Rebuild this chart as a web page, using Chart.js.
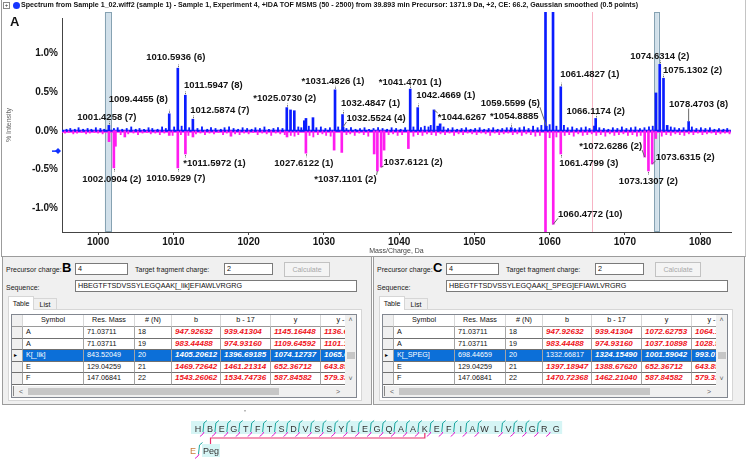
<!DOCTYPE html>
<html>
<head>
<meta charset="utf-8">
<script src="https://cdn.jsdelivr.net/npm/chart.js@4.4.1/dist/chart.umd.min.js"></script>
<style>
  body { margin: 0; width: 750px; height: 463px; position: relative; overflow: hidden; background: #fff;
         font-family: "Liberation Sans", Arial, sans-serif; }
  #specWrap { position: absolute; left: 0; top: 0; width: 750px; height: 256px; }
  #specBox { position: absolute; left: 1px; top: 0; width: 745px; height: 257px; box-sizing: border-box;
             border-left: 1px solid #9c9c9c; border-right: 1px solid #c4c4c4; border-bottom: 1px solid #9c9c9c; pointer-events: none; }
  #titleBar { position: absolute; left: 3px; top: 0; height: 10px; }
  #plusBox { position: absolute; left: 0; top: 2px; width: 5px; height: 5px; border: 1px solid #888; font: 6px/5px Arial; text-align: center; color: #333; }
  #dot { position: absolute; left: 10px; top: 2px; width: 7px; height: 7px; border-radius: 50%; background: #1535ff; }
  #ttl { position: absolute; left: 18px; top: 0; white-space: nowrap; font: bold 7.4px/10px "Liberation Sans", Arial, sans-serif; color: #111; transform-origin: 0 0; }
  #letterA { position: absolute; left: 10px; top: 15px; font: bold 13px/14px "Liberation Sans", Arial, sans-serif; color: #111; }

  .pnl { position: absolute; top: 256px; height: 149px; background: #f0f0f0; border: 1px solid #9c9c9c; box-sizing: border-box;
         font: 7px "Liberation Sans", Arial, sans-serif; color: #111; }
  .pnl div { position: absolute; box-sizing: border-box; }
  .lbl { white-space: nowrap; line-height: 10px; color: #222; }
  .big { font: bold 13px/14px "Liberation Sans", Arial, sans-serif; color: #000; }
  .inp { height: 12px; background: #fff; border: 1px solid #7a7a7a; padding-left: 2px; line-height: 10px; white-space: nowrap; overflow: hidden; font-size: 7.2px; }
  .btn { width: 46px; height: 15px; background: #f4f4f4; border: 1px solid #c2c2c2; color: #a8a8a8; text-align: center; line-height: 13px; }
  .page { background: #fff; border: 1px solid #d6d6d6; }
  .tab { text-align: center; line-height: 11px; border: 1px solid #d6d6d6; background: #f0f0f0; }
  .tab.sel { background: #fff; border-bottom: none; line-height: 13px; }
  .grid { background: #fff; border: 1px solid #828790; overflow: hidden; }
  .cell { height: 100%; top: 0; border-right: 1px solid #a4a4a4; border-bottom: 1px solid #707070; white-space: nowrap; overflow: hidden; padding-left: 3px; font-size: 7.2px; }
  .hd .cell { text-align: center; padding-left: 0; border-right: 1px solid #d8d8d8; border-bottom: 1px solid #9a9a9a; }
  .rh { background: #f0f0f0; padding-left: 2px !important; font-size: 6px !important; }
  .red { color: #f0141c; font: italic bold 8px "Liberation Sans", Arial, sans-serif; }
  .sel .cell { background: #0c6fd8; color: #fff; }
  .sel .cell.rh { background: #f0f0f0; color: #000; }
  .sel .red { color: #fff; }
  .sb { background: #f0f0f0; color: #606060; font-size: 7px; }
  .thumb { background: #c6c6c6; }
</style>
</head>
<body>
<div id="specWrap"><canvas id="spectrum"></canvas></div>
<div id="specBox"></div>
<div id="titleBar"><div id="plusBox">+</div><div id="dot"></div>
  <div id="ttl">Spectrum from Sample 1_02.wiff2 (sample 1) - Sample 1, Experiment 4, +IDA TOF MSMS (50 - 2500) from 39.893 min Precursor: 1371.9 Da, +2, CE: 66.2, Gaussian smoothed (0.5 points)</div>
</div>
<div id="letterA">A</div>
<div class="pnl" id="panelB" style="left:2px;width:370px"></div>
<div class="pnl" id="panelC" style="left:373px;width:372px"></div>
<svg id="seqSvg" width="750" height="59" style="position:absolute;left:0;top:404px"></svg>

<script>
// axis ranges and ticks
const xMin = 995.2, xMax = 1084.1;
const yMin = -1.31, yMax = 1.46;
const xTicks = [1000, 1010, 1020, 1030, 1040, 1050, 1060, 1070, 1080];
const yTicks = [-1.0, -0.5, 0, 0.5, 1.0];

// sample spectrum, labelled / major peaks (m/z, % intensity)
const posMz  = [1001.43, 1009.45, 1010.59, 1011.59, 1012.59, 1025.07, 1025.57, 1026.07, 1027.40, 1027.62, 1028.55,
                1031.48, 1032.48, 1032.55, 1041.47, 1042.47, 1044.63, 1045.13, 1045.45, 1054.89, 1059.45, 1059.56,
                1060.45, 1061.48, 1066.12, 1074.13, 1074.63, 1075.13, 1075.62, 1078.47];
const posInt = [0.07, 0.22, 0.81, 0.46, 0.15, 0.30, 0.27, 0.26, 0.13, 0.16, 0.17,
                0.53, 0.21, 0.05, 0.54, 0.30, 0.27, 0.06, 0.09, 0.04, 2.0, 0.06,
                2.0, 0.57, 0.16, 0.49, 0.86, 0.68, 0.07, 0.12];

// reference (library) spectrum, mirrored below the axis
const negMz  = [1001.45, 1002.09, 1002.30, 1003.55, 1009.45, 1010.59, 1011.60, 1012.60, 1017.65, 1025.10, 1027.61,
                1031.36, 1032.38, 1036.68, 1037.11, 1037.61, 1038.00, 1041.23, 1059.45, 1060.48, 1061.48,
                1072.63, 1073.13, 1073.63, 1074.10];
const negInt = [-0.14, -0.48, -0.20, -0.08, -0.06, -0.48, -0.30, -0.08, -0.07, -0.08, -0.29,
                -0.25, -0.28, -0.30, -0.52, -0.47, -0.25, -0.23, -2.0, -1.21, -0.30,
                -0.34, -0.52, -0.43, -0.10];

// small peaks
const posMinorMz  = [995.8, 996.3, 996.9, 997.4, 998.0, 998.6, 999.1, 999.7, 1000.3, 1000.8, 1002.1, 1002.6, 1003.2, 1003.8,
  1004.4, 1005.0, 1005.5, 1006.1, 1006.7, 1007.2, 1007.9, 1008.5, 1009.0, 1010.1, 1011.1, 1012.1, 1013.2, 1013.8, 1014.5,
  1015.0, 1015.6, 1016.3, 1016.8, 1017.4, 1018.0, 1018.6, 1019.2, 1019.8, 1020.4, 1020.9, 1021.5, 1022.1, 1022.7, 1023.3,
  1023.9, 1024.5, 1026.6, 1027.0, 1028.0, 1029.0, 1029.6, 1030.2, 1030.8, 1031.9, 1033.0, 1033.6, 1034.2, 1034.8, 1035.4,
  1036.0, 1036.6, 1037.2, 1037.8, 1038.4, 1039.0, 1039.6, 1040.2, 1040.8, 1041.9, 1042.9, 1043.4, 1043.9, 1044.2, 1045.9,
  1046.5, 1047.1, 1047.7, 1048.3, 1048.9, 1049.5, 1050.1, 1050.7, 1051.3, 1051.9, 1052.5, 1053.1, 1053.7, 1054.3, 1055.4,
  1056.0, 1056.6, 1057.2, 1057.8, 1058.4, 1058.9, 1060.0, 1060.9, 1061.9, 1062.4, 1063.0, 1063.6, 1064.2, 1064.8, 1065.3,
  1065.9, 1066.6, 1067.2, 1067.8, 1068.4, 1069.0, 1069.6, 1070.2, 1070.8, 1071.4, 1072.0, 1072.6, 1073.2, 1073.7, 1076.1,
  1076.6, 1077.2, 1077.8, 1078.9, 1079.5, 1080.1, 1080.7, 1081.3, 1081.9, 1082.5, 1083.1, 1083.6];
const posMinorInt = [0.02, 0.03, 0.02, 0.04, 0.02, 0.03, 0.02, 0.04, 0.03, 0.02, 0.03, 0.04, 0.02, 0.03,
  0.05, 0.02, 0.03, 0.02, 0.04, 0.03, 0.02, 0.05, 0.03, 0.05, 0.06, 0.04, 0.03, 0.05, 0.02,
  0.04, 0.03, 0.02, 0.04, 0.05, 0.03, 0.02, 0.04, 0.03, 0.02, 0.04, 0.03, 0.05, 0.02, 0.03,
  0.04, 0.03, 0.05, 0.04, 0.06, 0.04, 0.05, 0.03, 0.04, 0.05, 0.03, 0.04, 0.02, 0.03, 0.04,
  0.02, 0.03, 0.04, 0.03, 0.02, 0.04, 0.03, 0.02, 0.04, 0.05, 0.04, 0.06, 0.05, 0.07, 0.05,
  0.03, 0.04, 0.02, 0.03, 0.04, 0.02, 0.03, 0.04, 0.02, 0.03, 0.04, 0.02, 0.03, 0.04, 0.03,
  0.04, 0.05, 0.03, 0.06, 0.04, 0.07, 0.08, 0.06, 0.07, 0.04, 0.05, 0.03, 0.04, 0.05, 0.03,
  0.06, 0.04, 0.03, 0.02, 0.04, 0.03, 0.05, 0.03, 0.04, 0.05, 0.03, 0.04, 0.05, 0.06, 0.05,
  0.04, 0.03, 0.04, 0.05, 0.03, 0.04, 0.03, 0.04, 0.02, 0.03, 0.02, 0.03];
const negMinorMz  = [995.6, 996.1, 996.7, 997.2, 997.8, 998.4, 998.9, 999.5, 1000.0, 1000.6, 1003.0, 1004.0, 1004.7, 1005.3,
  1005.9, 1006.5, 1007.0, 1007.6, 1008.2, 1008.8, 1009.9, 1011.0, 1012.0, 1013.0, 1013.6, 1014.2, 1014.8, 1015.4, 1016.0,
  1016.6, 1017.1, 1018.2, 1018.8, 1019.4, 1020.0, 1020.6, 1021.2, 1021.8, 1022.4, 1023.0, 1023.6, 1024.2, 1024.8, 1025.6,
  1026.1, 1026.6, 1028.1, 1028.6, 1029.2, 1029.8, 1030.3, 1030.9, 1033.0, 1033.5, 1034.1, 1034.7, 1035.3, 1035.9, 1038.6,
  1039.2, 1039.8, 1040.4, 1041.9, 1042.5, 1043.1, 1043.7, 1044.3, 1044.9, 1045.5, 1046.1, 1046.7, 1047.3, 1047.9, 1048.5,
  1049.1, 1049.7, 1050.3, 1050.9, 1051.5, 1052.1, 1052.7, 1053.3, 1053.9, 1054.5, 1055.1, 1055.7, 1056.3, 1056.9, 1057.5,
  1058.1, 1058.7, 1060.0, 1060.9, 1062.0, 1062.6, 1063.2, 1063.8, 1064.4, 1065.0, 1065.6, 1066.2, 1066.8, 1067.4, 1068.0,
  1068.6, 1069.2, 1069.8, 1070.4, 1071.0, 1071.6, 1072.1, 1074.9, 1075.5, 1076.1, 1076.7, 1077.3, 1077.9, 1078.5, 1079.1,
  1079.7, 1080.3, 1080.9, 1081.5, 1082.1, 1082.7, 1083.3, 1083.9];
const negMinorInt = [-0.03, -0.02, -0.04, -0.03, -0.02, -0.04, -0.03, -0.02, -0.03, -0.04, -0.05, -0.04, -0.03, -0.05,
  -0.03, -0.02, -0.04, -0.03, -0.05, -0.03, -0.06, -0.05, -0.06, -0.04, -0.03, -0.05, -0.03, -0.04, -0.02,
  -0.05, -0.03, -0.04, -0.05, -0.03, -0.04, -0.02, -0.05, -0.03, -0.04, -0.06, -0.03, -0.04, -0.05, -0.06,
  -0.07, -0.05, -0.06, -0.08, -0.05, -0.04, -0.06, -0.07, -0.05, -0.04, -0.06, -0.03, -0.05, -0.07, -0.05,
  -0.04, -0.06, -0.05, -0.07, -0.05, -0.06, -0.04, -0.05, -0.06, -0.04, -0.05, -0.03, -0.06, -0.04, -0.05,
  -0.03, -0.04, -0.05, -0.03, -0.04, -0.06, -0.03, -0.05, -0.04, -0.03, -0.05, -0.04, -0.06, -0.04, -0.05,
  -0.07, -0.06, -0.09, -0.08, -0.06, -0.05, -0.07, -0.04, -0.06, -0.05, -0.04, -0.06, -0.05, -0.07, -0.04,
  -0.06, -0.05, -0.04, -0.06, -0.05, -0.07, -0.06, -0.07, -0.05, -0.06, -0.04, -0.05, -0.06, -0.04, -0.05,
  -0.03, -0.05, -0.04, -0.03, -0.05, -0.04, -0.03, -0.04];

// baseline traces
const blueBase = 0.0, pinkBase = -0.012;

// peak annotations: text, anchor m/z, anchor intensity
const labelText = ['1001.4258 (7)', '1009.4455 (8)', '1010.5936 (6)', '1011.5947 (8)', '1012.5874 (7)', '*1025.0730 (2)',
  '*1031.4826 (1)', '1032.4847 (1)', '1032.5524 (4)', '*1041.4701 (1)', '1042.4669 (1)', '*1044.6267', '*1054.8885',
  '1059.5599 (5)', '1061.4827 (1)', '1066.1174 (2)', '1074.6314 (2)', '1075.1302 (2)', '1078.4703 (8)',
  '1002.0904 (2)', '1010.5929 (7)', '*1011.5972 (1)', '1027.6122 (1)', '*1037.1101 (2)', '1037.6121 (2)',
  '1060.4772 (10)', '1061.4799 (3)', '*1072.6286 (2)', '1073.6315 (2)', '1073.1307 (2)'];
const labelMz  = [1001.43, 1009.45, 1010.59, 1011.59, 1012.59, 1025.07, 1031.48, 1032.48, 1032.55, 1041.47, 1042.47, 1044.63,
  1054.89, 1059.56, 1061.48, 1066.12, 1074.63, 1075.13, 1078.47,
  1002.09, 1010.59, 1011.60, 1027.61, 1037.11, 1037.61, 1060.48, 1061.48, 1072.63, 1073.63, 1073.13];
const labelInt = [0.07, 0.22, 0.81, 0.46, 0.15, 0.30, 0.53, 0.21, 0.05, 0.54, 0.30, 0.27, 0.04, 0.06, 0.57, 0.16, 0.86, 0.68, 0.12,
  -0.48, -0.48, -0.30, -0.29, -0.52, -0.47, -1.21, -0.30, -0.34, -0.43, -0.52];
// label placement relative to anchor: dx, dy (px), connector
const labelPlace = [[-2, -8, 'tick'], [-31, -14, 'tick'], [-2, -11, 'tick'], [28, -10, 'tick'], [27, -9, 'tick'], [-2, -9, 'tick'],
  [-2, -8, 'tick'], [28, -11, 'tick'], [33, -9, 'line'], [0, -7, 'tick'], [28, -12, 'tick'], [28, 7, 'line'], [3, -11, 'tick'],
  [-36, -23, 'line'], [29, -12, 'tick'], [0, -7, 'tick'], [0, -8, 'tick'], [29, -8, 'tick'], [10, -17, 'line'],
  [-2, 11, 'tick'], [-2, 10, 'tick'], [29, 9, 'tick'], [-2, 10, 'tick'], [-32, 8, 'line'], [32, -5, 'line'],
  [37, -10, 'line'], [28, 9, 'tick'], [-34, -11, 'line'], [33, -7, 'line'], [0, 10, 'tick']];

// highlighted m/z windows and marker
const bandRanges = [[1000.9, 1001.7], [1073.9, 1074.5]];
const cursorMz = 1065.6;
const precursorMark = -0.26;

const pts = (xs, ys) => xs.map((v, i) => ({ x: v, y: ys[i] }));

const decorPlugin = {
  id: 'specDecor',
  beforeDatasetsDraw(chart) {
    const { ctx, chartArea: a, scales: { x } } = chart;
    ctx.save();
    bandRanges.forEach(([m0, m1]) => {
      const x0 = x.getPixelForValue(m0), x1 = x.getPixelForValue(m1);
      ctx.fillStyle = 'rgba(184,208,222,0.65)';
      ctx.fillRect(x0, a.top - 6, x1 - x0, a.bottom - a.top + 6);
      ctx.strokeStyle = '#86a2b2';
      ctx.lineWidth = 1;
      ctx.strokeRect(Math.round(x0) + 0.5, a.top - 5.5, Math.round(x1 - x0), a.bottom - a.top + 5);
    });
    const cx = Math.round(x.getPixelForValue(cursorMz)) + 0.5;
    ctx.strokeStyle = '#f7b3c4';
    ctx.beginPath(); ctx.moveTo(cx, a.top - 6); ctx.lineTo(cx, a.bottom); ctx.stroke();
    ctx.restore();
  },
  afterDatasetsDraw(chart) {
    const { ctx, chartArea: a, scales: { x, y } } = chart;
    ctx.save();
    ctx.font = 'bold 9.5px "Liberation Sans", Arial, sans-serif';
    ctx.textAlign = 'center';
    ctx.textBaseline = 'middle';
    labelText.forEach((t, i) => {
      const ax = x.getPixelForValue(labelMz[i]);
      const ay = y.getPixelForValue(labelInt[i]);
      const [dx, dy, kind] = labelPlace[i];
      const cx = ax + dx, cy = ay + dy;
      const w = ctx.measureText(t).width;
      ctx.strokeStyle = '#6a6a6a';
      ctx.lineWidth = 1;
      if (kind === 'line') {
        const px = Math.min(Math.max(ax, cx - w / 2), cx + w / 2);
        const py = Math.min(Math.max(ay, cy - 4), cy + 4);
        ctx.beginPath(); ctx.moveTo(ax, ay); ctx.lineTo(px, py); ctx.stroke();
      } else {
        const s = labelInt[i] >= 0 ? -1 : 1;
        const tx = Math.round(ax) + 0.5;
        ctx.setLineDash([1.5, 1]);
        ctx.beginPath(); ctx.moveTo(tx, ay + s * 1); ctx.lineTo(tx, ay + s * 4); ctx.stroke();
        ctx.setLineDash([]);
      }
      ctx.fillStyle = '#141414';
      ctx.fillText(t, cx, cy);
    });
    // precursor marker on the y axis
    const my = y.getPixelForValue(precursorMark);
    const mx = a.left - 4;
    ctx.fillStyle = '#1030ff';
    ctx.beginPath();
    ctx.moveTo(mx, my - 3); ctx.lineTo(mx + 3, my); ctx.lineTo(mx, my + 3); ctx.lineTo(mx - 3, my);
    ctx.closePath(); ctx.fill();
    ctx.fillRect(mx - 6, my - 0.5, 4, 1.5);
    ctx.restore();
  }
};

const barBase = { type: 'bar', grouped: false, borderWidth: 0, clip: { left: 0, top: 6, right: 0, bottom: 0 } };

new Chart(document.getElementById('spectrum').getContext('2d'), {
  type: 'bar',
  data: {
    datasets: [
      { type: 'line', data: pts([xMin, xMax], [pinkBase, pinkBase]), borderColor: '#ff1cf0', borderWidth: 2, pointRadius: 0, order: 7 },
      { type: 'line', data: pts([xMin, xMax], [blueBase, blueBase]), borderColor: '#0a1cff', borderWidth: 2, pointRadius: 0, order: 6 },
      Object.assign({}, barBase, { data: pts(negMinorMz, negMinorInt), backgroundColor: '#ff1cf0', barThickness: 1.2, order: 5 }),
      Object.assign({}, barBase, { data: pts(posMinorMz, posMinorInt), backgroundColor: '#0a1cff', barThickness: 1.2, order: 4 }),
      Object.assign({}, barBase, { data: pts(negMz, negInt), backgroundColor: '#ff1cf0', barThickness: 2, order: 3 }),
      Object.assign({}, barBase, { data: pts(posMz, posInt), backgroundColor: '#0a1cff', barThickness: 2, order: 2 })
    ]
  },
  options: {
    responsive: true,
    maintainAspectRatio: false,
    animation: false,
    layout: { padding: { top: 18, right: 19, left: 0, bottom: 0 } },
    plugins: { legend: { display: false }, tooltip: { enabled: false } },
    scales: {
      x: {
        type: 'linear', min: xMin, max: xMax, offset: false,
        afterFit: s => { s.height = 24; },
        afterBuildTicks: s => { s.ticks = xTicks.map(v => ({ value: v })); },
        grid: { display: true, offset: false, drawOnChartArea: false, drawTicks: true, tickLength: 3, color: '#444' },
        border: { display: true, color: '#444', width: 1 },
        ticks: { autoSkip: false, maxRotation: 0, padding: 1, color: '#141414',
                 font: { family: '"Liberation Sans", Arial, sans-serif', size: 10, weight: 'bold' },
                 callback: v => String(v) },
        title: { display: true, text: 'Mass/Charge, Da', color: '#444', padding: { top: 0, bottom: 1 },
                 font: { family: '"Liberation Sans", Arial, sans-serif', size: 7 } }
      },
      y: {
        min: yMin, max: yMax,
        afterFit: s => { s.width = 62; },
        afterBuildTicks: s => { s.ticks = yTicks.map(v => ({ value: v })); },
        grid: { display: false, drawTicks: false },
        border: { display: true, color: '#444', width: 1 },
        ticks: { padding: 4, color: '#141414',
                 font: { family: '"Liberation Sans", Arial, sans-serif', size: 10, weight: 'bold' },
                 callback: v => v.toFixed(1) + '%' },
        title: { display: true, text: '% Intensity', color: '#666', padding: { top: 5, bottom: 0 },
                 font: { family: '"Liberation Sans", Arial, sans-serif', size: 7 } }
      }
    }
  },
  plugins: [decorPlugin]
});

// fit the header line to its width
const ttl = document.getElementById('ttl');
ttl.style.transform = 'scaleX(' + (617 / ttl.getBoundingClientRect().width) + ')';

// fragment tables
const tableB = {
  letter: 'B', seq: 'HBEGTFTSDVSSYLEGQAAK[_lik]EFIAWLVRGRG',
  sym: ['A', 'A', 'K[_lik]', 'E', 'F'],
  mass: ['71.03711', '71.03711', '843.52049', '129.04259', '147.06841'],
  num: ['18', '19', '20', '21', '22'],
  b: ['947.92632', '983.44488', '1405.20612', '1469.72642', '1543.26062'],
  b17: ['939.41304', '974.93160', '1396.69185', '1461.21314', '1534.74736'],
  y: ['1145.16448', '1109.64592', '1074.12737', '652.36712', '587.84582'],
  y17: ['1136.65120', '1101.13264', '1065.61409', '643.85384', '579.33254']
};
const tableC = {
  letter: 'C', seq: 'HBEGTFTSDVSSYLEGQAAK[_SPEG]EFIAWLVRGRG',
  sym: ['A', 'A', 'K[_SPEG]', 'E', 'F'],
  mass: ['71.03711', '71.03711', '698.44659', '129.04259', '147.06841'],
  num: ['18', '19', '20', '21', '22'],
  b: ['947.92632', '983.44488', '1332.66817', '1397.18947', '1470.72368'],
  b17: ['939.41304', '974.93160', '1324.15490', '1388.67620', '1462.21040'],
  y: ['1072.62753', '1037.10898', '1001.59042', '652.36712', '587.84582'],
  y17: ['1064.11425', '1028.59570', '993.07714', '643.85384', '579.33254']
};
const colLeft = [0, 11, 72, 123, 160, 209, 259, 309];
const colW = [11, 61, 51, 37, 49, 50, 50, 50];
const heads = ['', 'Symbol', 'Res. Mass', '# (N)', 'b', 'b - 17', 'y', 'y - 17'];

function cell(i, txt, cls) {
  return `<div class="cell ${cls || ''}" style="left:${colLeft[i]}px;width:${colW[i]}px">${txt}</div>`;
}

function buildPanel(el, t, selRow) {
  let h = '';
  h += `<div class="lbl" style="left:3px;top:8px">Precursor charge:</div>`;
  h += `<div class="big" style="left:59px;top:4px">${t.letter}</div>`;
  h += `<div class="inp" style="left:72px;top:6px;width:53px">4</div>`;
  h += `<div class="lbl" style="left:132px;top:8px">Target fragment charge:</div>`;
  h += `<div class="inp" style="left:221px;top:6px;width:49px">2</div>`;
  h += `<div class="btn" style="left:281px;top:5px">Calculate</div>`;
  h += `<div class="lbl" style="left:3px;top:26px">Sequence:</div>`;
  h += `<div class="inp" style="left:72px;top:23px;width:282px">${t.seq}</div>`;
  h += `<div class="page" style="left:5px;top:52px;width:354px;height:92px"></div>`;
  h += `<div class="tab" style="left:30px;top:41px;width:24px;height:12px">List</div>`;
  h += `<div class="tab sel" style="left:5px;top:39px;width:26px;height:14px">Table</div>`;
  let g = `<div class="hd" style="left:0;top:0;width:349px;height:12px">`;
  heads.forEach((s, i) => { g += cell(i, s, i === 0 ? 'rh' : ''); });
  g += `</div>`;
  for (let r = 0; r < 5; r++) {
    const sel = r === selRow;
    g += `<div class="${sel ? 'sel' : ''}" style="left:0;top:${12 + r * 11.6}px;width:349px;height:11.6px;line-height:10.6px">`;
    g += cell(0, sel ? '&#9656;' : '', 'rh');
    g += cell(1, t.sym[r]) + cell(2, t.mass[r]) + cell(3, t.num[r]);
    g += cell(4, t.b[r], (sel && t.letter === 'C') ? '' : 'red') + cell(5, t.b17[r], 'red') + cell(6, t.y[r], 'red') + cell(7, t.y17[r], 'red');
    g += `</div>`;
  }
  g += `<div class="sb" style="left:333px;top:0;width:11px;height:71px;text-align:center">`
     + `<div style="left:0;top:1px;width:11px;line-height:8px">&#708;</div>`
     + `<div class="thumb" style="left:2px;top:37px;width:8px;height:7px"></div>`
     + `<div style="left:0;top:60px;width:11px;line-height:8px">&#709;</div></div>`;
  g += `<div class="sb" style="left:0;top:71px;width:344px;height:11px">`
     + `<div style="left:1px;top:0;width:1px;height:10px;background:#888"></div>`
     + `<div style="left:7px;top:1px;line-height:9px">&lt;</div>`
     + `<div class="thumb" style="left:16px;top:2px;width:251px;height:7px"></div>`
     + `<div style="left:324px;top:1px;line-height:9px">&gt;</div></div>`;
  h += `<div class="grid" style="left:8px;top:57px;width:346px;height:84px">${g}</div>`;
  el.innerHTML = h;
}
buildPanel(document.getElementById('panelB'), tableB, 2);
buildPanel(document.getElementById('panelC'), tableC, 2);

// peptide fragment map
const peptide = 'HBEGTFTSDVSSYLEGQAAKEFIAWLVRGRG';
const linkIndex = 19;
const noMark = [24];
const yOnlyMark = [29];
const svg = document.getElementById('seqSvg');
const cw = 11.94, x0 = 192;
let s = `<rect x="${x0 - 1}" y="17" width="${peptide.length * cw + 1}" height="13" fill="#d6f5f5"/>`;
for (let i = 0; i < peptide.length; i++) {
  s += `<text x="${x0 + cw / 2 + i * cw}" y="27.5" text-anchor="middle" font-family="Liberation Sans, Arial" font-size="9" fill="#333">${peptide[i]}</text>`;
}
for (let i = 0; i < peptide.length - 1; i++) {
  if (noMark.includes(i)) continue;
  const bx = x0 + (i + 1) * cw;
  if (!yOnlyMark.includes(i)) {
    s += `<path d="M${bx - 1} 28 L${bx} 19 L${bx + 3} 16.5" stroke="#1aa6a0" stroke-width="1" fill="none"/>`;
  }
  s += `<path d="M${bx} 28 L${bx - 1} 30 L${bx - 4} 32.5" stroke="#e020d0" stroke-width="1" fill="none"/>`;
}
const kx = x0 + cw / 2 + linkIndex * cw;
s += `<path d="M${kx} 29 V34 H210.5 V40" stroke="#e8306c" stroke-width="1.2" fill="none"/>`;
s += `<text x="193" y="50" text-anchor="middle" font-family="Liberation Sans, Arial" font-size="9" fill="#c87a3a">E</text>`;
s += `<rect x="202" y="40" width="18" height="13" fill="#d6f5f5"/>`;
s += `<path d="M198.5 50 L199.5 41 L202.5 38.5" stroke="#1aa6a0" stroke-width="1" fill="none"/>`;
s += `<path d="M199 50 L198 52 L195 54.5" stroke="#e020d0" stroke-width="1" fill="none"/>`;
s += `<text x="203" y="50" font-family="Liberation Sans, Arial" font-size="9" fill="#333">Peg</text>`;
s += `<rect x="244.5" y="6" width="1" height="1.5" fill="#777"/>`;
svg.innerHTML = s;
</script>
</body>
</html>
